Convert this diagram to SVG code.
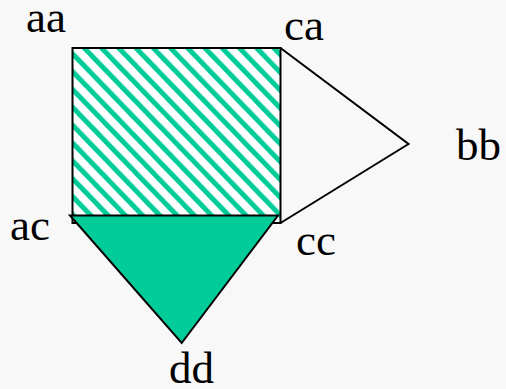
<svg xmlns="http://www.w3.org/2000/svg" width="506" height="389" viewBox="0 0 506 389">
<defs>
<pattern id="stripes" patternUnits="userSpaceOnUse" width="12.4" height="12.4" patternTransform="rotate(-44)">
<rect width="12.4" height="12.4" fill="#ffffff"/>
<rect x="0" y="0" width="5" height="12.4" fill="#00cc99"/>
</pattern>
</defs>
<style>
.lbl{font-family:"Liberation Serif","Times New Roman",serif;font-size:45px;fill:#000}
.edge{stroke:#000;stroke-width:2;fill:none;stroke-linejoin:miter}
</style>
<rect width="506" height="389" fill="#f8f8f8"/>
<g id="connectors">
<polyline class="edge" points="280.5,48 408.5,144 280.5,223"/>
</g>
<g id="square">
<rect x="72.5" y="48" width="208" height="175" fill="url(#stripes)" stroke="#000" stroke-width="2"/>
</g>
<g id="triangle">
<polygon points="70,215.5 278,215.5 181.7,343" fill="#00cc99" stroke="#000" stroke-width="2"/>
</g>
<g id="labels">
<text class="lbl" x="26" y="32">aa</text>
<text class="lbl" x="284" y="40">ca</text>
<text class="lbl" x="456" y="160">bb</text>
<text class="lbl" x="10" y="240">ac</text>
<text class="lbl" x="296" y="255">cc</text>
<text class="lbl" x="169" y="383">dd</text>
</g>
</svg>
